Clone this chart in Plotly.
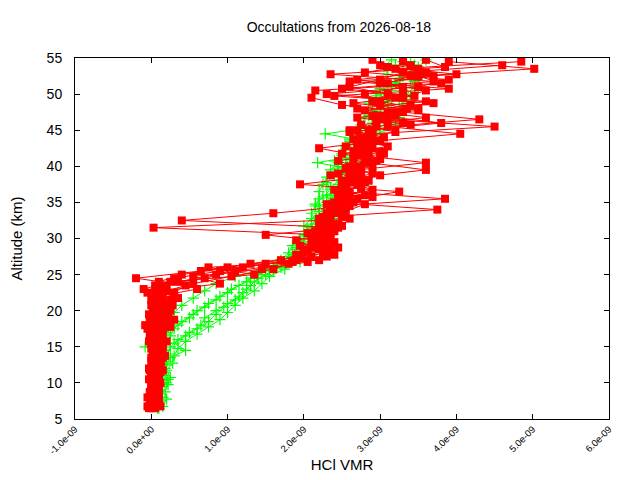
import plotly.graph_objects as go

# altitude grids (km)
ALT_A = [6.5, 7.5, 8.5, 9.5, 10.5, 11.5, 12.5, 13.5, 14.5, 15.5, 16.5, 17.5, 18.5,
         19.5, 20.5, 21.5, 22.5, 23.5, 24.5, 25.5, 26.5, 27.5, 28.5, 29.5, 30.5,
         31.5, 32.5, 33.5, 34.5, 35.5, 36.5, 37.5, 38.5, 39.5, 40.5, 41.5, 42.5,
         43.5, 44.5, 45.5, 46.5, 47.5, 48.5, 49.5, 50.5, 51.5, 52.5, 53.5, 54.5]
ALT_B = [7.0, 8.0, 9.0, 10.0, 11.0, 12.0, 13.0, 14.0, 15.0, 16.0, 17.0, 18.0,
         19.0, 20.0, 21.0, 22.0, 23.0, 24.0, 25.0, 26.0, 27.0, 28.0, 29.0, 30.0,
         31.0, 32.0, 33.0, 34.0, 35.0, 36.0, 37.0, 38.0, 39.0, 40.0, 41.0, 42.0,
         43.0, 44.0, 45.0, 46.0, 47.0, 48.0, 49.0, 50.0, 51.0, 52.0, 53.0, 54.0]
ALT_C = [6.75, 7.75, 8.75, 9.75, 10.75, 11.75, 12.75, 13.75, 14.75, 15.75, 16.75,
         17.75, 18.75, 19.75, 20.75, 21.75, 22.75, 23.75, 24.75, 25.75, 26.75,
         27.75, 28.75, 29.75, 30.75, 31.75, 32.75, 33.75, 34.75, 35.75, 36.75,
         37.75, 38.75, 39.75, 40.75, 41.75, 42.75, 43.75, 44.75, 45.75, 46.75,
         47.75, 48.75, 49.75, 50.75, 51.75, 52.75, 53.75, 54.75]

# HCl VMR, units of 1e-9
red_1 = [0.0, 0.02, 0.0, 0.03, 0.05, 0.04, 0.06, 0.05, 0.08, 0.07, 0.1, 0.05, 0.08,
         0.1, 0.12, 0.1, 0.05, 0.15, 0.3, 0.9, 1.5, 2.1, 2.2, 2.25, 2.3, 2.2, 2.35,
         2.4, 2.5, 2.55, 2.6, 2.7, 2.65, 2.75, 2.8, 2.85, 2.8, 2.9, 2.85, 2.95, 3.0,
         3.1, 3.0, 3.2, 3.3, 3.1, 3.4, 3.5, 3.3]
red_2 = [0.05, 0.08, 0.1, 0.07, 0.1, 0.12, 0.1, 0.15, 0.12, 0.1, 0.13, 0.15, 0.2,
         0.18, 0.22, 0.25, 0.3, 0.45, -0.2, 0.65, 1.3, 1.95, 2.05, 2.15, 2.25, 0.03,
         2.2, 2.3, 2.4, 3.85, 2.5, 2.55, 2.6, 2.7, 3.6, 2.75, 2.9, 3.0, 2.9, 4.5,
         3.1, 3.2, 3.4, 3.3, 3.6, 3.0, 3.7, 3.2, 4.85]
red_3 = [-0.03, -0.02, 0.02, 0.0, -0.03, 0.0, 0.02, 0.0, 0.03, 0.0, -0.02, -0.05,
         0.0, -0.03, 0.02, 0.0, -0.05, 0.05, 0.7, 1.1, 1.8, 2.3, 2.35, 2.4, 1.5,
         2.45, 0.4, 1.6, 2.6, 2.7, 3.25, 1.95, 2.75, 3.6, 2.85, 2.7, 2.2, 2.95, 4.05,
         3.1, 4.3, 3.3, 2.5, 2.1, 2.15, 3.8, 3.5, 5.02, 3.9]
red_4 = [0.05, 0.02, 0.05, 0.08, 0.05, 0.1, 0.08, 0.05, 0.1, 0.08, 0.05, -0.08,
         0.0, 0.05, 0.1, 0.15, 0.2, 0.1, 0.4, 1.0, 1.7, 2.0, 2.1, 2.2, 2.3, 2.35,
         2.25, 2.45, 2.5, 2.6, 2.55, 2.65, 2.6, 2.7, 2.8, 2.75, 2.85, 2.9, 2.7, 2.95,
         3.2, 3.35, 2.9, 3.1, 2.6, 3.0, 3.3, 4.6]
red_5 = [0.0, -0.05, 0.0, 0.02, 0.0, -0.03, 0.0, 0.03, 0.05, 0.03, 0.12, 0.2,
         0.15, 0.1, 0.18, 0.1, 0.6, 0.35, 0.85, 1.2, 1.9, 2.25, 2.3, 2.1, 2.4, 2.3,
         2.5, 2.35, 2.65, 2.8, 2.75, 2.5, 2.9, 2.6, 3.0, 2.65, 2.8, 3.05, 2.6, 3.3,
         2.9, 3.5, 3.0, 2.8, 3.3, 2.7, 3.6, 3.0]
red_6 = [0.1, 0.08, 0.1, 0.12, 0.1, 0.08, 0.13, 0.1, 0.15, 0.12, 0.1, 0.15, 0.2,
         0.25, 0.2, 0.3, -0.1, 0.25, 1.35, 0.75, 2.2, 2.3, 1.95, 2.35, 2.15, 2.45,
         2.3, 3.75, 2.4, 2.55, 2.5, 2.85, 2.45, 2.9, 2.65, 3.0, 2.7, 2.75, 2.85, 3.8,
         3.0, 2.7, 3.6, 2.3, 3.5, 3.9, 2.8, 3.4]
red_7 = [0.12, 0.1, 0.05, 0.1, 0.08, 0.15, 0.12, 0.18, 0.15, 0.2, 0.15, 0.25, 0.3,
         0.22, 0.28, 0.35, 0.2, 0.55, 1.05, 1.6, 1.85, 2.4, 2.15, 1.9, 2.35, 2.5,
         2.2, 2.55, 2.8, 2.45, 2.9, 2.6, 3.0, 2.55, 2.95, 2.5, 3.1, 2.65, 3.2, 2.75,
         3.6, 2.8, 3.7, 2.4, 3.9, 2.6, 4.0, 3.1, 2.9]
red_8 = [-0.05, 0.0, -0.02, 0.0, 0.02, -0.02, 0.05, 0.02, 0.0, -0.03, 0.0, 0.05,
         -0.02, 0.05, 0.0, 0.1, 0.15, 0.9, 0.55, 1.45, 2.05, 1.9, 2.45, 2.25, 2.05,
         2.3, 2.6, 2.35, 2.3, 2.9, 2.4, 2.8, 2.35, 2.75, 2.45, 3.05, 2.55, 2.85, 2.6,
         3.4, 2.7, 3.5, 2.65, 3.45, 2.5, 3.7, 2.35, 3.85, 3.6]

green_1 = [0.08, 0.05, 0.1, 0.08, 0.12, 0.1, 0.15, 0.12, 0.18, 0.2, 0.25, 0.3, 0.4,
           0.55, 0.7, 0.85, 1.0, 1.15, 1.3, 1.5, 1.65, 1.8, 1.9, 2.0, 2.05, 2.1,
           2.15, 2.1, 2.15, 2.2, 2.2, 2.25, 2.3, 2.35, 2.45, 2.5, 2.55, 2.6, 2.7,
           2.9, 2.95, 3.0, 3.05, 3.1, 3.15, 3.2, 3.3, 3.35, 3.4]
green_2 = [0.1, 0.12, 0.08, 0.15, 0.22, 0.18, 0.2, 0.25, 0.45, 0.3, 0.45, 0.6, 0.75,
           0.85, 0.95, 1.1, 1.2, 1.3, 1.4, 1.6, 1.75, 1.85, 1.95, 2.1, 2.0, 2.2,
           2.25, 2.3, 2.2, 2.4, 2.5, 2.45, 2.55, 2.65, 2.18, 2.7, 2.85, 2.8, 2.28,
           2.95, 3.05, 3.15, 3.1, 3.25, 3.3, 3.2, 3.45, 3.4, 3.3]
green_3 = [0.05, 0.08, 0.05, 0.1, 0.08, 0.12, 0.1, 0.15, -0.08, 0.15, 0.2, 0.35,
           0.5, 0.6, 0.75, 0.9, 1.05, 1.25, 1.4, 1.6, 1.7, 1.8, 1.85, 1.95, 2.05,
           2.1, 2.2, 2.3, 2.35, 2.3, 2.45, 2.5, 2.55, 2.5, 2.6, 2.7, 2.65, 2.75,
           2.85, 2.9, 2.85, 3.0, 3.1, 3.0, 3.1, 3.25, 3.3, 3.2]
green_4 = [0.1, 0.15, 0.12, 0.2, 0.15, 0.18, 0.2, 0.22, 0.25, 0.35, 0.5, 0.65, 0.7,
           0.85, 1.0, 1.15, 1.25, 1.35, 1.5, 1.7, 1.9, 2.0, 2.1, 2.15, 2.25, 2.3,
           2.25, 2.3, 2.3, 2.4, 2.35, 2.45, 2.5, 2.6, 2.55, 2.7, 2.75, 2.85, 2.9,
           3.1, 3.2, 3.25, 3.3, 3.35, 3.45, 3.4, 3.5, 3.45]
green_5 = [0.0, 0.02, 0.05, 0.03, 0.06, 0.05, 0.08, 0.1, 0.12, 0.15, 0.18, 0.22,
           0.25, 0.3, 0.4, 0.55, 0.7, 0.85, 1.1, 1.45, 1.7, 1.85, 1.9, 1.95, 2.1,
           2.0, 2.1, 2.2, 2.15, 2.25, 2.35, 2.3, 2.4, 2.45, 2.4, 2.5, 2.55, 2.6,
           2.7, 2.75, 2.8, 2.9, 2.85, 2.95, 3.0, 2.95, 3.1, 3.05, 3.15]
green_6 = [0.15, 0.2, 0.18, 0.22, 0.25, 0.2, 0.28, 0.3, 0.35, 0.45, 0.6, 0.75, 0.9,
           1.0, 1.1, 1.2, 1.35, 1.45, 1.55, 1.75, 1.95, 2.1, 2.2, 2.25, 2.3, 2.35,
           2.4, 2.3, 2.35, 2.4, 2.5, 2.55, 2.6, 2.7, 2.75, 2.8, 2.85, 2.9, 3.0,
           3.2, 3.25, 3.3, 3.35, 3.4, 3.5, 3.45, 3.55, 3.5, 3.6]

x_tick_vals = [-1e-9, 0.0, 1e-9, 2e-9, 3e-9, 4e-9, 5e-9, 6e-9]
x_tick_text = ["-1.0e-09", "0.0e+00", "1.0e-09", "2.0e-09", "3.0e-09",
               "4.0e-09", "5.0e-09", "6.0e-09"]
y_tick_vals = [5, 10, 15, 20, 25, 30, 35, 40, 45, 50, 55]

green = [(ALT_A, green_1), (ALT_A, green_2), (ALT_B, green_3), (ALT_B, green_4),
         (ALT_C, green_5), (ALT_C, green_6)]
red = [(ALT_A, red_1), (ALT_A, red_2), (ALT_A, red_3), (ALT_B, red_4),
       (ALT_B, red_5), (ALT_B, red_6), (ALT_C, red_7), (ALT_C, red_8)]

fig = go.Figure()
for alt, vmr in green:
    fig.add_scatter(x=[v * 1e-9 for v in vmr], y=alt, mode="lines+markers",
                    line=dict(color="#00ff00", width=1),
                    marker=dict(symbol="cross-thin", size=8,
                                line=dict(color="#00ff00", width=1.2)),
                    showlegend=False)
for alt, vmr in red:
    fig.add_scatter(x=[v * 1e-9 for v in vmr], y=alt, mode="lines+markers",
                    line=dict(color="#ff0000", width=1),
                    marker=dict(symbol="square", size=8, color="#ff0000"),
                    showlegend=False)

axis_style = dict(showline=True, linecolor="black", linewidth=1, mirror="ticks",
                  ticks="inside", ticklen=5, tickcolor="black", showgrid=False,
                  zeroline=False, automargin=False)

# the page body adds an 8px offset, margins compensate for it
fig.update_layout(
    width=640, height=480,
    margin=dict(l=67, r=39, t=50, b=69),
    paper_bgcolor="white", plot_bgcolor="white",
    font=dict(family="Liberation Sans, Arial, sans-serif", color="black", size=13),
    title=dict(text="Occultations from 2026-08-18", x=0.517, xanchor="center",
               y=0.96, yanchor="middle", font=dict(size=14)),
    xaxis=dict(range=[-1e-9, 6e-9], tickvals=x_tick_vals, ticktext=x_tick_text,
               tickangle=-45, tickfont=dict(size=9.5),
               title=dict(text="HCl VMR", font=dict(size=15), standoff=4),
               **axis_style),
    yaxis=dict(range=[5, 55], tickvals=y_tick_vals, tickfont=dict(size=14),
               ticklabelstandoff=9,
               title=dict(text="Altitude (km)", font=dict(size=15), standoff=20),
               **axis_style),
)

fig.write_html("out.html")
